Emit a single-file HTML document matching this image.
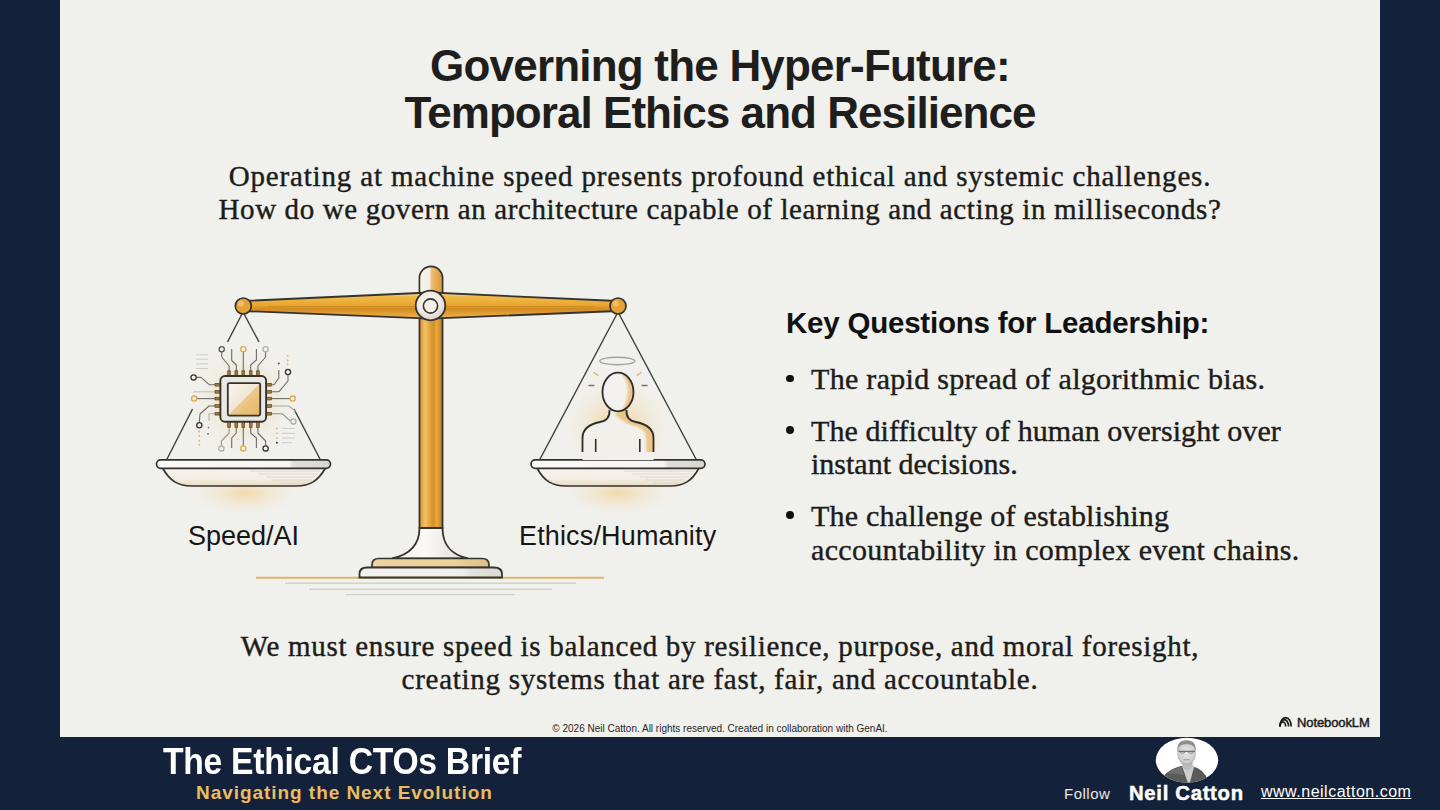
<!DOCTYPE html>
<html><head><meta charset="utf-8">
<style>
html,body{margin:0;padding:0;}
body{width:1440px;height:810px;overflow:hidden;background:#13223a;position:relative;font-family:"Liberation Sans",sans-serif;}
#slide{position:absolute;left:60px;top:0;width:1320px;height:736.5px;background:#f0f0ec;}
.t{position:absolute;white-space:nowrap;line-height:1;}
.sans{font-family:"Liberation Sans",sans-serif;}
.serif{font-family:"Liberation Serif",serif;-webkit-text-stroke:0.4px #1c1c1a;}
.c{left:0;width:1440px;text-align:center;}
svg{position:absolute;left:0;top:0;}
</style></head>
<body>
<div id="slide"></div>
<svg width="1440" height="810" viewBox="0 0 1440 810">
<defs>
  <filter id="soft" x="-20%" y="-20%" width="140%" height="140%"><feGaussianBlur stdDeviation="1.3"/></filter>
  <clipPath id="bodyclip"><path d="M582.5 452 L582.5 438 C582.5 428 590 424 600 422 C606 421 610 418 609.5 410 L626.5 410 C626 418 630 421 636 422 C646 424 653.5 428 653.5 438 L653.5 452 Z"/></clipPath>
  <clipPath id="headclip"><ellipse cx="618" cy="392" rx="15.5" ry="19.3"/></clipPath>
  <radialGradient id="glow" cx="50%" cy="50%" r="50%">
    <stop offset="0" stop-color="#f3b956" stop-opacity="0.85"/>
    <stop offset="0.45" stop-color="#f5cf8a" stop-opacity="0.45"/>
    <stop offset="1" stop-color="#f0f0ec" stop-opacity="0"/>
  </radialGradient>
  <radialGradient id="fog" cx="50%" cy="50%" r="50%">
    <stop offset="0" stop-color="#f3f1ec" stop-opacity="1"/>
    <stop offset="0.7" stop-color="#f2f0eb" stop-opacity="0.9"/>
    <stop offset="1" stop-color="#f0f0ec" stop-opacity="0"/>
  </radialGradient>
  <linearGradient id="beamg" x1="0" y1="0" x2="0" y2="1">
    <stop offset="0" stop-color="#fbe8bf"/>
    <stop offset="0.15" stop-color="#f2bb4c"/>
    <stop offset="0.5" stop-color="#e8a52e"/>
    <stop offset="0.62" stop-color="#d38c22"/>
    <stop offset="0.8" stop-color="#e3a034"/>
    <stop offset="1" stop-color="#eab254"/>
  </linearGradient>
  <radialGradient id="pivg" cx="45%" cy="40%" r="60%">
    <stop offset="0" stop-color="#faf8f4"/>
    <stop offset="0.6" stop-color="#efebe4"/>
    <stop offset="1" stop-color="#d8d2c6"/>
  </radialGradient>
  <linearGradient id="postg" x1="0" y1="0" x2="1" y2="0">
    <stop offset="0" stop-color="#d9962c"/>
    <stop offset="0.25" stop-color="#f2c066"/>
    <stop offset="0.45" stop-color="#e4a43c"/>
    <stop offset="0.6" stop-color="#d58f26"/>
    <stop offset="0.75" stop-color="#e8a840"/>
    <stop offset="1" stop-color="#c07c1a"/>
  </linearGradient>
  <linearGradient id="capg" x1="0" y1="0" x2="1" y2="0">
    <stop offset="0" stop-color="#f7f4ef"/>
    <stop offset="0.45" stop-color="#f3efe7"/>
    <stop offset="0.5" stop-color="#eec27a"/>
    <stop offset="1" stop-color="#d99a35"/>
  </linearGradient>
  <linearGradient id="chipg" x1="0" y1="0" x2="1" y2="1">
    <stop offset="0" stop-color="#f8f5ef"/>
    <stop offset="0.5" stop-color="#f1e6d3"/>
    <stop offset="0.5" stop-color="#ecc98a"/>
    <stop offset="1" stop-color="#e6b462"/>
  </linearGradient>
  <linearGradient id="bowlg" x1="0" y1="0" x2="0" y2="1">
    <stop offset="0" stop-color="#f5f3ee"/>
    <stop offset="0.6" stop-color="#f2ede3"/>
    <stop offset="1" stop-color="#ecdcc0"/>
  </linearGradient>
  <linearGradient id="rimg" x1="0" y1="0" x2="1" y2="0">
    <stop offset="0" stop-color="#fbfaf8"/>
    <stop offset="0.76" stop-color="#f6f5f2"/>
    <stop offset="0.79" stop-color="#e0ded9"/>
    <stop offset="1" stop-color="#d8d6d0"/>
  </linearGradient>
  <linearGradient id="flareg" x1="0" y1="0" x2="1" y2="0">
    <stop offset="0" stop-color="#f2f0ec"/>
    <stop offset="0.45" stop-color="#faf9f6"/>
    <stop offset="1" stop-color="#dedbd4"/>
  </linearGradient>
  <linearGradient id="plinthg" x1="0" y1="0" x2="1" y2="0">
    <stop offset="0" stop-color="#ecd3a0"/>
    <stop offset="0.7" stop-color="#ebd09a"/>
    <stop offset="1" stop-color="#dcc08a"/>
  </linearGradient>
  <linearGradient id="plinth2g" x1="0" y1="0" x2="1" y2="0">
    <stop offset="0" stop-color="#f4f2ee"/>
    <stop offset="0.72" stop-color="#f0eeea"/>
    <stop offset="0.8" stop-color="#e2e0da"/>
    <stop offset="1" stop-color="#dcdad4"/>
  </linearGradient>
  <radialGradient id="headg" cx="30%" cy="40%" r="75%">
    <stop offset="0" stop-color="#f7f5f1"/>
    <stop offset="0.6" stop-color="#f2efe9"/>
    <stop offset="1" stop-color="#e6b86a"/>
  </radialGradient>
  <linearGradient id="bodyg" x1="0" y1="0" x2="1" y2="0">
    <stop offset="0" stop-color="#f4f2ee"/>
    <stop offset="0.7" stop-color="#efece6"/>
    <stop offset="0.85" stop-color="#ebc380"/>
    <stop offset="1" stop-color="#e4a84a"/>
  </linearGradient>
</defs>

<!-- glows -->
<ellipse cx="243" cy="400" rx="55" ry="56" fill="url(#glow)" opacity="0.55"/>
<ellipse cx="243" cy="399" rx="36" ry="36" fill="url(#glow)" opacity="0.45"/>
<ellipse cx="245" cy="493" rx="62" ry="24" fill="url(#glow)" opacity="0.5"/>
<ellipse cx="618" cy="428" rx="58" ry="55" fill="url(#glow)" opacity="0.7"/>
<ellipse cx="618" cy="493" rx="62" ry="24" fill="url(#glow)" opacity="0.5"/>

<!-- base lines -->
<line x1="256" y1="577.8" x2="604" y2="577.8" stroke="#dcb56c" stroke-width="2"/>
<line x1="285" y1="583.3" x2="576" y2="583.3" stroke="#d2d0ca" stroke-width="1.4"/>
<line x1="309" y1="589.2" x2="552" y2="589.2" stroke="#d2d0ca" stroke-width="1.4"/>
<line x1="346" y1="594.6" x2="515" y2="594.6" stroke="#d2d0ca" stroke-width="1.4"/>

<!-- strings -->
<g stroke="#3c3c3a" stroke-width="1.4" fill="none">
  <line x1="243" y1="312" x2="227.5" y2="342"/>
  <line x1="243" y1="312" x2="259" y2="342"/>
  <line x1="192.5" y1="409" x2="166" y2="461"/>
  <line x1="294" y1="409" x2="321" y2="461"/>
  <line x1="618" y1="312" x2="539" y2="461"/>
  <line x1="618" y1="312" x2="697" y2="461"/>
</g>

<!-- post -->
<path d="M419.5 278 A11.5 11.5 0 0 1 442.5 278 L442.5 528 L419.5 528 Z" fill="url(#postg)" stroke="#35332f" stroke-width="1.8"/>
<path d="M420.4 278 A10.6 10.6 0 0 1 441.6 278 L441.6 292 L420.4 292 Z" fill="url(#capg)"/>
<!-- flared base -->
<path d="M419.5 528 C419.5 547 408 555 392 558.5 L468 558.5 C453 555 442.5 547 442.5 528 Z" fill="url(#flareg)" stroke="#35332f" stroke-width="1.8"/>
<path d="M372 567.5 L372 565 Q372 558.5 379 558.5 L482 558.5 Q489 558.5 489 565 L489 567.5 Z" fill="url(#plinthg)" stroke="#35332f" stroke-width="1.7"/>
<path d="M359.5 577.5 L359.5 574 Q359.5 567.5 367 567.5 L494 567.5 Q502 567.5 502 574 L502 577.5 Z" fill="url(#plinth2g)" stroke="#35332f" stroke-width="1.8"/>

<!-- beam -->
<path d="M243 301 L430 292.5 L618 301 L618 311 L430 318.7 L243 311 Z" fill="url(#beamg)" stroke="#35332f" stroke-width="1.8" stroke-linejoin="round"/>
<line x1="268" y1="306.5" x2="594" y2="306.5" stroke="#b5721a" stroke-width="0.8" opacity="0.5"/><line x1="280" y1="309" x2="580" y2="309" stroke="#c07a1c" stroke-width="0.6" opacity="0.4"/>
<circle cx="243.3" cy="306" r="8" fill="#e6a235" stroke="#35332f" stroke-width="1.7"/>
<circle cx="241" cy="303.5" r="3" fill="#f3c670" opacity="0.8"/>
<circle cx="618" cy="306" r="8" fill="#e6a235" stroke="#35332f" stroke-width="1.7"/>
<circle cx="615.7" cy="303.5" r="3" fill="#f3c670" opacity="0.8"/>
<!-- pivot -->
<circle cx="430.5" cy="305.5" r="14.8" fill="url(#pivg)" stroke="#35332f" stroke-width="1.8"/>
<circle cx="430.5" cy="306" r="7.1" fill="#f3f0ea" stroke="#35332f" stroke-width="1.6"/>

<!-- left pan -->
<path d="M162.5 468 C170 481 178 486 192 486 L296 486 C310 486 318 481 325.5 468 Z" fill="url(#bowlg)" stroke="#35332f" stroke-width="1.7"/>
<g stroke="#d2cfc8" stroke-width="0.7"><line x1="250" y1="471" x2="320" y2="471"/><line x1="258" y1="474" x2="318" y2="474"/><line x1="266" y1="477" x2="315" y2="477"/><line x1="272" y1="480" x2="311" y2="480"/><line x1="280" y1="483" x2="305" y2="483"/></g>
<rect x="156.5" y="459.8" width="174" height="8.5" rx="4.25" fill="url(#rimg)" stroke="#35332f" stroke-width="1.7"/>
<!-- right pan -->
<path d="M537 468 C544 481 552 486 566 486 L670 486 C684 486 692 481 699 468 Z" fill="url(#bowlg)" stroke="#35332f" stroke-width="1.7"/>
<g stroke="#d2cfc8" stroke-width="0.7"><line x1="624" y1="471" x2="694" y2="471"/><line x1="632" y1="474" x2="692" y2="474"/><line x1="640" y1="477" x2="689" y2="477"/><line x1="646" y1="480" x2="685" y2="480"/><line x1="654" y1="483" x2="679" y2="483"/></g>
<rect x="531" y="459.8" width="174" height="8.5" rx="4.25" fill="url(#rimg)" stroke="#35332f" stroke-width="1.7"/>

<!-- chip decorations -->
<g stroke="#cfccc5" stroke-width="1">
  <line x1="196" y1="354.8" x2="208" y2="354.8"/><line x1="196" y1="359.2" x2="208" y2="359.2"/><line x1="196" y1="363.9" x2="208" y2="363.9"/><line x1="196" y1="368.5" x2="208" y2="368.5"/>
  <line x1="282" y1="428.4" x2="295" y2="428.4"/><line x1="282" y1="433.3" x2="295" y2="433.3"/><line x1="282" y1="438.1" x2="295" y2="438.1"/><line x1="282" y1="442.7" x2="292" y2="442.7"/>
</g>
<g fill="#e3b35a">
  <circle cx="276.9" cy="428.4" r="0.9"/><circle cx="276.9" cy="433.3" r="0.9"/><circle cx="276.9" cy="438.1" r="0.9"/>
  <circle cx="287.6" cy="355.8" r="0.9"/><circle cx="287.6" cy="360.5" r="0.9"/><circle cx="287.6" cy="364.3" r="0.9"/>
  <circle cx="199.3" cy="431.5" r="0.9"/><circle cx="199.3" cy="436" r="0.9"/><circle cx="199.3" cy="440.7" r="0.9"/><circle cx="199.3" cy="444.9" r="0.9"/>
</g>
<circle cx="276.9" cy="442.7" r="1" fill="#333"/>
<circle cx="278.8" cy="363.5" r="1" fill="#555"/>
<circle cx="208.5" cy="427.6" r="0.9" fill="#777"/>
<circle cx="208" cy="433.8" r="0.9" fill="#555"/>
<!-- chip traces -->
<g stroke="#6e6c67" stroke-width="1.1" fill="none" stroke-linejoin="round">
  <path d="M229.1 371 L229.1 366 L221.7 357 L221.7 351.8"/>
  <path d="M236.3 371 L236.3 365 L231.7 360.5 L231.7 349"/>
  <path d="M243.3 371 L243.3 351.8"/>
  <path d="M250.7 371 L250.7 365 L256.4 360 L256.4 349"/>
  <path d="M257.9 371 L257.9 366 L265.6 357 L265.6 351.8"/>
  <path d="M215.5 384.7 L209.3 384.7 L201 377.4 L196.2 377.4"/>
  <path d="M215.5 391.8 L193 391.8" stroke="#c6c3bc"/>
  <path d="M215.5 398.6 L196.8 398.6"/>
  <path d="M215.5 406 L209 406 L200 414 L199.3 422.7"/>
  <path d="M215.5 413.7 L209 413.7 L209 421" stroke="#b5b2ab"/>
  <path d="M271.5 384.7 L274 384.7 L278.8 378 L278.8 370"/>
  <path d="M271.5 391.8 L278.8 391.8 L288 381 L288 374.6"/>
  <path d="M271.5 398.6 L290.1 398.6"/>
  <path d="M271.5 406 L289 406 L295.7 411.4" stroke="#aaa7a0"/>
  <path d="M271.5 413.7 L282 413.7 L290.8 421.4" stroke="#8c8a85"/>
  <path d="M229.1 427.5 L229.1 433 L221.4 441 L221.4 445.8" stroke="#9a9893"/>
  <path d="M236.3 427.5 L236.3 433 L231.7 438 L231.7 448"/>
  <path d="M243.3 427.5 L243.3 445.8"/>
  <path d="M250.7 427.5 L250.7 433 L256.4 438 L256.4 448"/>
  <path d="M257.9 427.5 L257.9 433 L265.6 441 L265.6 445.8"/>
</g>
<g fill="#f3f1ec" stroke-width="1.3">
  <circle cx="221.7" cy="349.2" r="2.6" stroke="#55534f"/>
  <circle cx="243.3" cy="349.2" r="2.6" stroke="#e2a845"/>
  <circle cx="265.6" cy="349.2" r="2.6" stroke="#b0ada6"/>
  <circle cx="193.6" cy="377.4" r="2.6" stroke="#35332f"/>
  <circle cx="194.2" cy="398.6" r="2.6" stroke="#e2a845"/>
  <circle cx="199.3" cy="425.3" r="2.6" stroke="#35332f"/>
  <circle cx="288" cy="372" r="2.6" stroke="#35332f"/>
  <circle cx="292.7" cy="398.6" r="2.6" stroke="#e2a845"/>
  <circle cx="293.4" cy="421.4" r="2.6" stroke="#b0ada6"/>
  <circle cx="221.4" cy="448.4" r="2.6" stroke="#b0ada6"/>
  <circle cx="243.3" cy="448.4" r="2.6" stroke="#e2a845"/>
  <circle cx="265.6" cy="448.4" r="2.6" stroke="#35332f"/>
</g>
<g fill="#a0783a" stroke="#4a3a20" stroke-width="0.6">
  <rect x="227.7" y="370.8" width="2.8" height="5.8"/><rect x="234.9" y="370.8" width="2.8" height="5.8"/><rect x="241.9" y="370.8" width="2.8" height="5.8"/><rect x="249.3" y="370.8" width="2.8" height="5.8"/><rect x="256.5" y="370.8" width="2.8" height="5.8"/>
  <rect x="227.7" y="421.6" width="2.8" height="5.8"/><rect x="234.9" y="421.6" width="2.8" height="5.8"/><rect x="241.9" y="421.6" width="2.8" height="5.8"/><rect x="249.3" y="421.6" width="2.8" height="5.8"/><rect x="256.5" y="421.6" width="2.8" height="5.8"/>
  <rect x="215" y="383.3" width="5.8" height="2.8"/><rect x="215" y="390.4" width="5.8" height="2.8"/><rect x="215" y="397.2" width="5.8" height="2.8"/><rect x="215" y="404.6" width="5.8" height="2.8"/><rect x="215" y="412.3" width="5.8" height="2.8"/>
  <rect x="265.8" y="383.3" width="5.8" height="2.8"/><rect x="265.8" y="390.4" width="5.8" height="2.8"/><rect x="265.8" y="397.2" width="5.8" height="2.8"/><rect x="265.8" y="404.6" width="5.8" height="2.8"/><rect x="265.8" y="412.3" width="5.8" height="2.8"/>
</g>
<rect x="220.4" y="376" width="45.7" height="45.7" rx="4.5" fill="#ebe8e2" stroke="#35332f" stroke-width="1.9"/>
<rect x="227.8" y="383.1" width="32.4" height="32.5" rx="1.5" fill="url(#chipg)" stroke="#35332f" stroke-width="1.8"/>

<!-- person -->
<ellipse cx="617.3" cy="361" rx="17.5" ry="3.8" fill="none" stroke="#a3a19c" stroke-width="1.4"/>
<g stroke-width="1.4" stroke-linecap="round">
  <line x1="589" y1="385.5" x2="594" y2="385.5" stroke="#77756f"/>
  <line x1="642" y1="385.5" x2="647" y2="385.5" stroke="#77756f"/>
  <line x1="594" y1="372.5" x2="598" y2="375.5" stroke="#e2b56a"/>
  <line x1="641" y1="372.5" x2="637" y2="375.5" stroke="#e2b56a"/>
</g>
<path d="M582.5 460 L582.5 438 C582.5 428 590 424 600 422 C606 421 610 418 609.5 410 L626.5 410 C626 418 630 421 636 422 C646 424 653.5 428 653.5 438 L653.5 460 Z" fill="#f2f0eb"/>
<g clip-path="url(#bodyclip)"><path d="M614 414 C622 420 627 424 635 426 C643 428 646 432 646.5 440 L646.5 456 L656 456 L656 438 C656 428 648 422 638 420 C630 418 628 416 628 408 Z" fill="#e7b056" opacity="0.68" filter="url(#soft)"/></g>
<path d="M582.5 452 L582.5 438 C582.5 428 590 424 600 422 C606 421 610 418 609.5 410 M626.5 410 C626 418 630 421 636 422 C646 424 653.5 428 653.5 438 L653.5 452" fill="none" stroke="#2e2d2a" stroke-width="1.8"/>
<line x1="595.7" y1="439" x2="595.7" y2="452" stroke="#2e2d2a" stroke-width="1.6"/>
<line x1="639.8" y1="439" x2="639.8" y2="452" stroke="#2e2d2a" stroke-width="1.6"/>
<ellipse cx="618" cy="392" rx="15.5" ry="19.3" fill="#f4f2ee"/>
<g clip-path="url(#headclip)"><path d="M619 371 C630 374 636 383 636 392 C636 402 631 410 620 413 C626 405 628 398 628 390 C628 383 625 377 619 371 Z" fill="#e7b25c" opacity="0.7" filter="url(#soft)"/></g>
<ellipse cx="618" cy="392" rx="15.5" ry="19.3" fill="none" stroke="#2e2d2a" stroke-width="1.8"/>

<!-- NotebookLM logo -->
<g fill="none" stroke="#1a1a1a" stroke-width="1.7">
  <path d="M1280 726.5 A5.6 9 0 0 1 1291.2 726.5"/>
  <path d="M1280 726.5 A4.3 6.8 0 0 1 1288.6 726.5"/>
  <path d="M1280 726.5 A2.8 4.6 0 0 1 1285.6 726.5"/>
</g>

<!-- portrait -->
<defs>
  <clipPath id="pc"><ellipse cx="1187" cy="760.2" rx="31.2" ry="22.4"/></clipPath>
  <radialGradient id="faceg" cx="50%" cy="45%" r="55%">
    <stop offset="0" stop-color="#e6e6e6"/>
    <stop offset="0.75" stop-color="#d0d0d0"/>
    <stop offset="1" stop-color="#a8a8a8"/>
  </radialGradient>
</defs>
<ellipse cx="1187" cy="760.2" rx="31.2" ry="22.4" fill="#ffffff"/>
<g clip-path="url(#pc)">
  <path d="M1160 786 L1163 777 C1167 771 1174 768 1181 766 L1193 766.5 C1199 768 1204 772 1207 778 L1210 786 Z" fill="#5a5a5a"/>
  <path d="M1168 773 C1172 770 1176 768 1181 766.5 L1184 775 Z" fill="#777" opacity="0.7"/>
  <path d="M1182 766 L1189 786 L1194 767 Z" fill="#cfcfcf"/>
  <path d="M1183 759 L1192 759 L1193 767 L1188 771 L1182 767 Z" fill="#bdbdbd"/>
  <ellipse cx="1186.6" cy="753.5" rx="9.3" ry="11.8" fill="url(#faceg)"/>
  <path d="M1177.4 752 C1176.8 744 1180 740.3 1186.6 740.3 C1193.2 740.3 1196.4 744 1195.8 752 L1194.8 749 C1194 745.5 1191 744.2 1186.6 744.2 C1182 744.2 1179 745.5 1178.4 749 Z" fill="#8e8e8e"/>
  <path d="M1178.5 751.3 L1195 751.3" stroke="#4a4a4a" stroke-width="0.9"/>
  <path d="M1179.5 751.5 Q1182.5 755 1185.8 751.5 M1187.5 751.5 Q1190.8 755 1194 751.5" stroke="#666" stroke-width="0.7" fill="none"/>
  <path d="M1183.5 759.8 L1189.8 759.8" stroke="#888" stroke-width="0.8"/>
</g>
</svg>

<!-- title -->
<div class="t sans c" style="top:44px;font-size:44px;font-weight:700;color:#1e1e1c;letter-spacing:-0.8px;">Governing the Hyper-Future:</div>
<div class="t sans c" style="top:91px;font-size:44px;font-weight:700;color:#1e1e1c;letter-spacing:-0.95px;">Temporal Ethics and Resilience</div>

<div class="t serif c" style="top:162px;font-size:29px;color:#1c1c1a;letter-spacing:0.84px;">Operating at machine speed presents profound ethical and systemic challenges.</div>
<div class="t serif c" style="top:195px;font-size:29px;color:#1c1c1a;letter-spacing:0.62px;">How do we govern an architecture capable of learning and acting in milliseconds?</div>

<div class="t sans" style="left:786px;top:308px;font-size:29.5px;font-weight:700;color:#111;letter-spacing:-0.22px;">Key Questions for Leadership:</div>

<div style="position:absolute;left:785.9px;top:374.6px;width:7.8px;height:7.8px;border-radius:50%;background:#111;"></div>
<div class="t serif" style="left:811px;top:364px;font-size:30px;color:#1c1c1a;letter-spacing:0.3px;">The rapid spread of algorithmic bias.</div>
<div style="position:absolute;left:785.9px;top:426.3px;width:7.8px;height:7.8px;border-radius:50%;background:#111;"></div>
<div class="t serif" style="left:811px;top:416px;font-size:30px;color:#1c1c1a;letter-spacing:0.08px;">The difficulty of human oversight over</div>
<div class="t serif" style="left:811px;top:449px;font-size:30px;color:#1c1c1a;">instant decisions.</div>
<div style="position:absolute;left:785.9px;top:510.9px;width:7.8px;height:7.8px;border-radius:50%;background:#111;"></div>
<div class="t serif" style="left:811px;top:501px;font-size:30px;color:#1c1c1a;letter-spacing:0.2px;">The challenge of establishing</div>
<div class="t serif" style="left:811px;top:535px;font-size:30px;color:#1c1c1a;letter-spacing:0.33px;">accountability in complex event chains.</div>

<div class="t sans" style="left:188px;top:523px;font-size:27px;color:#161616;">Speed/AI</div>
<div class="t sans" style="left:519px;top:523px;font-size:27px;color:#161616;letter-spacing:0.15px;">Ethics/Humanity</div>

<div class="t serif c" style="top:632px;font-size:29px;color:#1c1c1a;letter-spacing:0.7px;">We must ensure speed is balanced by resilience, purpose, and moral foresight,</div>
<div class="t serif c" style="top:665px;font-size:29px;color:#1c1c1a;letter-spacing:0.72px;">creating systems that are fast, fair, and accountable.</div>

<div class="t sans c" style="top:724.2px;font-size:10px;color:#262626;">© 2026 Neil Catton. All rights reserved. Created in collaboration with GenAI.</div>
<div class="t sans" style="left:1297px;top:715.7px;font-size:13px;font-weight:400;color:#1a1a1a;letter-spacing:-0.1px;-webkit-text-stroke:0.45px #1a1a1a;">NotebookLM</div>

<!-- footer -->
<div class="t sans" style="left:163px;top:742.5px;font-size:37px;font-weight:700;color:#fff;letter-spacing:-0.3px;transform:scaleX(0.91);transform-origin:0 0;">The Ethical CTOs Brief</div>
<div class="t sans" style="left:196px;top:782.6px;font-size:19px;font-weight:700;color:#ecbc5e;letter-spacing:0.95px;">Navigating the Next Evolution</div>

<div class="t sans" style="left:1064px;top:786px;font-size:15px;color:#e8e8e8;letter-spacing:0.5px;">Follow</div>
<div class="t sans" style="left:1129px;top:782.5px;font-size:20.3px;font-weight:700;color:#fff;letter-spacing:0.7px;-webkit-text-stroke:0.5px #fff;">Neil Catton</div>
<div class="t sans" style="left:1261px;top:784px;font-size:16px;color:#fff;letter-spacing:0.5px;text-decoration:underline;">www.neilcatton.com</div>
</body></html>
